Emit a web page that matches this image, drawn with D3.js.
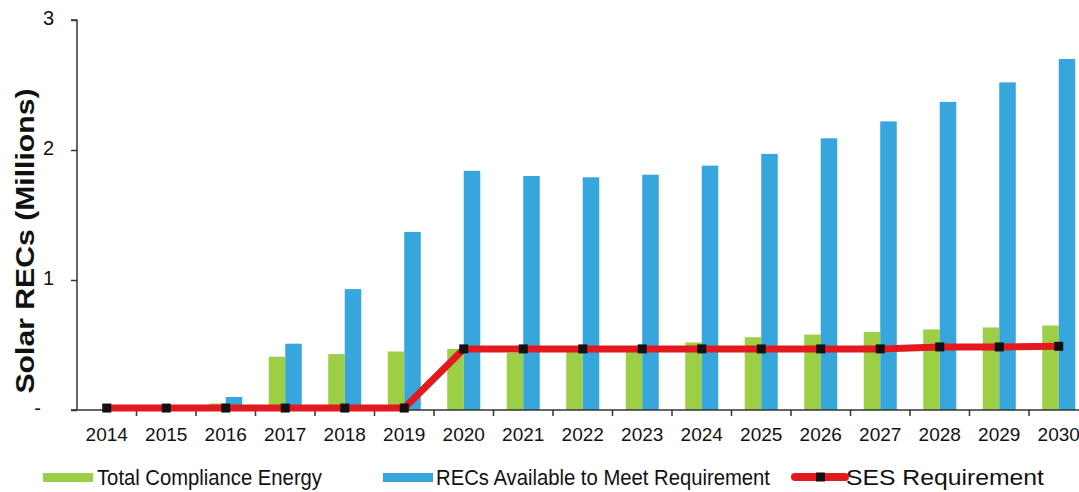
<!DOCTYPE html>
<html>
<head>
<meta charset="utf-8">
<script src="https://cdn.jsdelivr.net/npm/d3@7"></script>
<style>
  html, body { margin: 0; padding: 0; background: #fff; }
  svg { display: block; font-family: "Liberation Sans", Arial, sans-serif; }
</style>
</head>
<body>
<svg id="chart" width="1079" height="492"></svg>
<script>
const years = ["2014","2015","2016","2017","2018","2019","2020","2021","2022","2023","2024","2025","2026","2027","2028","2029","2030"];
const totalCompliance = [0, 0.005, 0.05, 0.41, 0.43, 0.45, 0.47, 0.44, 0.45, 0.46, 0.52, 0.56, 0.58, 0.60, 0.62, 0.635, 0.65];
const recsAvailable = [0, 0.01, 0.10, 0.51, 0.93, 1.37, 1.84, 1.80, 1.79, 1.81, 1.88, 1.97, 2.09, 2.22, 2.37, 2.52, 2.70];
const sesRequirement = [0.015, 0.015, 0.015, 0.015, 0.015, 0.015, 0.47, 0.47, 0.47, 0.47, 0.47, 0.47, 0.47, 0.47, 0.485, 0.485, 0.49];
const yTicks = [0, 1, 2, 3];
const seriesNames = ["Total Compliance Energy", "RECs Available to Meet Requirement", "SES Requirement"];
const yTitle = "Solar RECs (Millions)";

const colors = { green: "#9ccf45", blue: "#37a6dc", red: "#e3191f", marker: "#111111", axis: "#333333" };

const svg = d3.select("#chart");
const x0 = 77, bandW = 59.5;
const x = d3.scaleBand().domain(years).range([x0, x0 + bandW * years.length]).padding(0);
const y = d3.scaleLinear().domain([0, 3]).range([410, 20]);
const sub = d3.scaleBand().domain(["green", "blue"]).range([-16.5, 16.5]).padding(0);

const barData = [];
years.forEach((yr, i) => {
  barData.push({ yr, key: "green", v: totalCompliance[i] });
  barData.push({ yr, key: "blue", v: recsAvailable[i] });
});

svg.append("g").selectAll("rect").data(barData).join("rect")
  .attr("x", d => x(d.yr) + x.bandwidth() / 2 + sub(d.key))
  .attr("width", sub.bandwidth())
  .attr("y", d => y(d.v))
  .attr("height", d => y(0) - y(d.v))
  .attr("fill", d => colors[d.key]);

// Y axis
const yAxis = d3.axisLeft(y).tickValues(yTicks).tickSize(6).tickPadding(17)
  .tickFormat(d => d === 0 ? "-" : d3.format("d")(d));
const gy = svg.append("g").attr("transform", `translate(${x0},0)`).call(yAxis);
gy.select(".domain").attr("stroke", colors.axis).attr("stroke-width", 1.5).attr("d", `M-6,${y(3)}H0V${y(0)}`);
gy.selectAll(".tick line").attr("stroke", colors.axis).attr("stroke-width", 1.5);
gy.selectAll(".tick text").attr("font-size", 20).attr("fill", "#111").attr("dy", "0.2em")
  .attr("dx", d => d === 0 ? -13 : 0);

// X axis
const gx = svg.append("g").attr("transform", `translate(0,${y(0)})`);
gx.append("line").attr("x1", x0 - 6).attr("x2", 1079).attr("y1", 0).attr("y2", 0)
  .attr("stroke", colors.axis).attr("stroke-width", 1.5);
gx.selectAll("line.tk").data(years.slice(1)).join("line").attr("class", "tk")
  .attr("x1", d => x(d)).attr("x2", d => x(d)).attr("y1", 0).attr("y2", 6)
  .attr("stroke", colors.axis).attr("stroke-width", 1.5);
gx.selectAll("text").data(years).join("text")
  .attr("x", d => x(d) + x.bandwidth() / 2).attr("y", 31)
  .attr("text-anchor", "middle").attr("font-size", 19).attr("fill", "#111")
  .text(d => d);

// SES line
const line = d3.line().x((d, i) => x(years[i]) + x.bandwidth() / 2).y(d => y(d));
svg.append("path").datum(sesRequirement).attr("d", line)
  .attr("fill", "none").attr("stroke", colors.red).attr("stroke-width", 7).attr("stroke-linejoin", "round");
svg.append("g").selectAll("rect").data(sesRequirement).join("rect")
  .attr("x", (d, i) => x(years[i]) + x.bandwidth() / 2 - 4.5)
  .attr("y", d => y(d) - 4.5)
  .attr("width", 9).attr("height", 9).attr("fill", colors.marker);

// Y title
svg.append("text")
  .attr("transform", `translate(34,241) rotate(-90)`)
  .attr("text-anchor", "middle")
  .attr("font-size", 25).attr("font-weight", "bold").attr("fill", "#111")
  .attr("textLength", 305).attr("lengthAdjust", "spacingAndGlyphs")
  .text(yTitle);

// Legend
const leg = svg.append("g");
const legendItems = [
  { name: seriesNames[0], type: "bar", color: colors.green, sx: 43, tx: 97, tl: 225 },
  { name: seriesNames[1], type: "bar", color: colors.blue, sx: 383, tx: 436, tl: 334 },
  { name: seriesNames[2], type: "line", color: colors.red, sx: 795, tx: 846, tl: 198 }
];
legendItems.forEach(it => {
  if (it.type === "bar") {
    leg.append("rect").attr("x", it.sx).attr("y", 473).attr("width", 50).attr("height", 9).attr("fill", it.color);
  } else {
    leg.append("line").attr("x1", it.sx).attr("x2", it.sx + 50).attr("y1", 477).attr("y2", 477)
      .attr("stroke", it.color).attr("stroke-width", 8).attr("stroke-linecap", "round");
    leg.append("rect").attr("x", it.sx + 21).attr("y", 472.5).attr("width", 9).attr("height", 9).attr("fill", colors.marker);
  }
  leg.append("text").attr("x", it.tx).attr("y", 485).attr("font-size", 22).attr("fill", "#111")
    .attr("textLength", it.tl).attr("lengthAdjust", "spacingAndGlyphs")
    .text(it.name);
});
</script>
</body>
</html>
